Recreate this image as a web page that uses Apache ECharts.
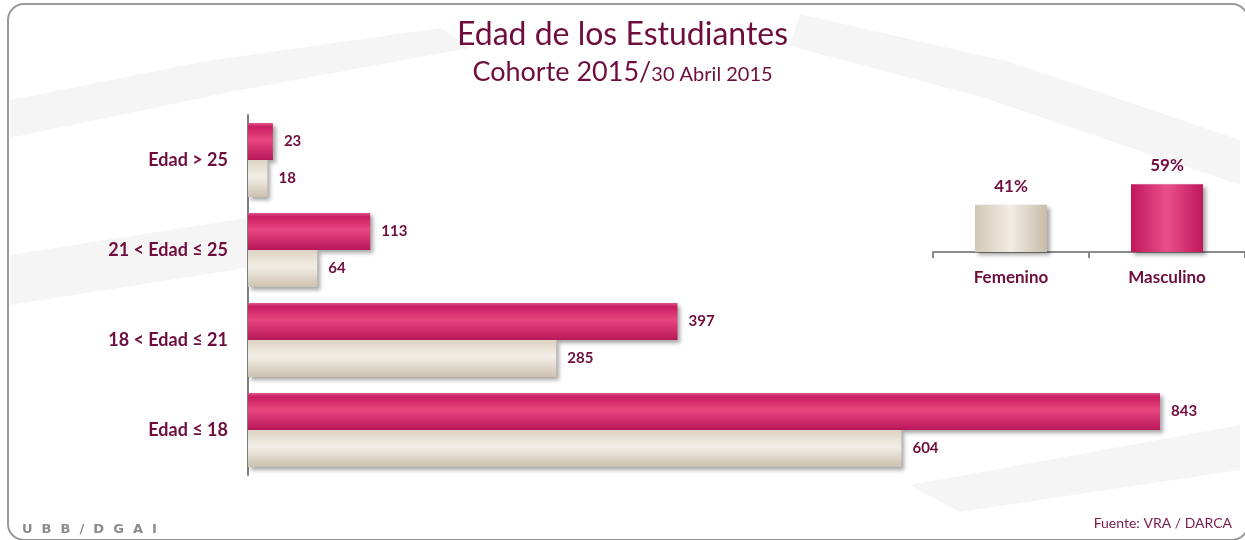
<!DOCTYPE html>
<html>
<head>
<meta charset="utf-8">
<script src="https://cdn.jsdelivr.net/npm/echarts@6/dist/echarts.min.js"></script>
<style>
  html, body { margin: 0; padding: 0; background: #fff; }
  #main { width: 1245px; height: 540px; }
</style>
</head>
<body>
<div id="main"></div>
<script>
var myChart = echarts.init(document.getElementById('main'));

// datos
var categorias = ['Edad > 25', '21 < Edad ≤ 25', '18 < Edad ≤ 21', 'Edad ≤ 18'];
var masculino = [23, 113, 397, 843];
var femenino = [18, 64, 285, 604];
var sexos = ['Femenino', 'Masculino'];
var porcentajes = [41, 59];

var granate = '#6e0d3e';
var font = 'Lato, "Open Sans", sans-serif';

var rosa = new echarts.graphic.LinearGradient(0, 0, 0, 1, [
    {offset: 0, color: '#e0568a'},
    {offset: 0.1, color: '#c91d62'},
    {offset: 0.45, color: '#e8467f'},
    {offset: 1, color: '#b8175a'}
]);
var beige = new echarts.graphic.LinearGradient(0, 0, 0, 1, [
    {offset: 0, color: '#ddd2c3'},
    {offset: 0.45, color: '#f2eee5'},
    {offset: 1, color: '#cdc1b0'}
]);
var rosaV = new echarts.graphic.LinearGradient(0, 0, 1, 0, [
    {offset: 0, color: '#bf175b'},
    {offset: 0.5, color: '#e9508a'},
    {offset: 1, color: '#bf175b'}
]);
var beigeV = new echarts.graphic.LinearGradient(0, 0, 1, 0, [
    {offset: 0, color: '#d3c7b6'},
    {offset: 0.5, color: '#f1ece3'},
    {offset: 1, color: '#c9bba8'}
]);

var sombra = {shadowColor: 'rgba(0,0,0,0.35)', shadowBlur: 4, shadowOffsetX: 3, shadowOffsetY: 3};
var fondo = '#f5f5f5';

option = {
    backgroundColor: '#fff',
    textStyle: {fontFamily: font},
    title: {
        text: 'Edad de los Estudiantes',
        subtext: '{a|Cohorte 2015/}{b|30 Abril 2015}',
        left: 'center',
        top: 14,
        itemGap: 8,
        textStyle: {color: granate, fontSize: 32, fontWeight: 'normal', fontFamily: font},
        subtextStyle: {
            rich: {
                a: {color: granate, fontSize: 27, fontFamily: font},
                b: {color: granate, fontSize: 20, fontFamily: font, padding: [5, 0, 0, 0]}
            }
        }
    },
    graphic: [
        // marca de agua
        {type: 'polygon', z: -20, silent: true,
         shape: {points: [[10, 100], [200, 62], [440, 28], [470, 48], [230, 92], [10, 138]]}, style: {fill: fondo}},
        {type: 'polygon', z: -20, silent: true,
         shape: {points: [[10, 255], [246, 218], [246, 268], [10, 305]]}, style: {fill: fondo}},
        {type: 'polygon', z: -20, silent: true,
         shape: {points: [[800, 14], [1010, 62], [1240, 140], [1240, 185], [985, 98], [790, 46]]}, style: {fill: fondo}},
        {type: 'polygon', z: -20, silent: true,
         shape: {points: [[910, 485], [1240, 425], [1240, 470], [960, 512]]}, style: {fill: fondo}},
        {
            type: 'rect', z: -10, silent: true,
            shape: {x: 8, y: 4, width: 1240, height: 536, r: 16},
            style: {fill: 'none', stroke: '#9a9a9a', lineWidth: 2}
        },
        {
            type: 'text', left: 22, top: 523,
            style: {text: 'U  B  B  /  D  G  A  I', fill: '#8c8c8c', font: 'bold 13px "DejaVu Sans"'}
        },
        {
            type: 'text', right: 13, top: 516,
            style: {text: 'Fuente: VRA / DARCA', fill: '#7a1a4a', font: '14px ' + font}
        }
    ],
    grid: [
        {left: 248, right: 85, top: 115, bottom: 65, containLabel: false},
        {left: 933, width: 314, top: 137, bottom: 288, containLabel: false}
    ],
    xAxis: [
        {
            gridIndex: 0, type: 'value', min: 0, max: 843,
            show: false
        },
        {
            gridIndex: 1, type: 'category', data: sexos,
            axisLine: {lineStyle: {color: '#8a8a8a', width: 2}},
            axisTick: {show: true, length: 6, lineStyle: {color: '#8a8a8a', width: 2}},
            axisLabel: {color: granate, fontWeight: 'bold', fontSize: 17, margin: 17, fontFamily: font}
        }
    ],
    yAxis: [
        {
            gridIndex: 0, type: 'category', data: categorias, inverse: true,
            axisLine: {lineStyle: {color: '#7f7f7f', width: 2}},
            axisTick: {show: false},
            axisLabel: {color: granate, fontWeight: 'bold', fontSize: 18, margin: 20, fontFamily: font}
        },
        {
            gridIndex: 1, type: 'value', min: 0, max: 100, show: false
        }
    ],
    series: [
        {
            name: 'Masculino', type: 'bar', xAxisIndex: 0, yAxisIndex: 0,
            data: masculino, barWidth: 37, barGap: '0%',
            itemStyle: Object.assign({color: rosa}, sombra),
            label: {show: true, position: 'right', distance: 11, color: granate, fontWeight: 'bold', fontSize: 15, fontFamily: font}
        },
        {
            name: 'Femenino', type: 'bar', xAxisIndex: 0, yAxisIndex: 0,
            data: femenino, barWidth: 37, barGap: '0%',
            itemStyle: Object.assign({color: beige}, sombra),
            label: {show: true, position: 'right', distance: 11, color: granate, fontWeight: 'bold', fontSize: 15, fontFamily: font}
        },
        {
            name: 'Sexo', type: 'bar', xAxisIndex: 1, yAxisIndex: 1,
            data: porcentajes.map(function (v, i) {
                return {value: v, itemStyle: {color: i === 0 ? beigeV : rosaV}};
            }),
            barWidth: 72,
            itemStyle: sombra,
            label: {show: true, position: 'top', distance: 10, formatter: '{c}%', color: granate, fontWeight: 'bold', fontSize: 17, fontFamily: font}
        }
    ]
};
myChart.setOption(option);
</script>
</body>
</html>
